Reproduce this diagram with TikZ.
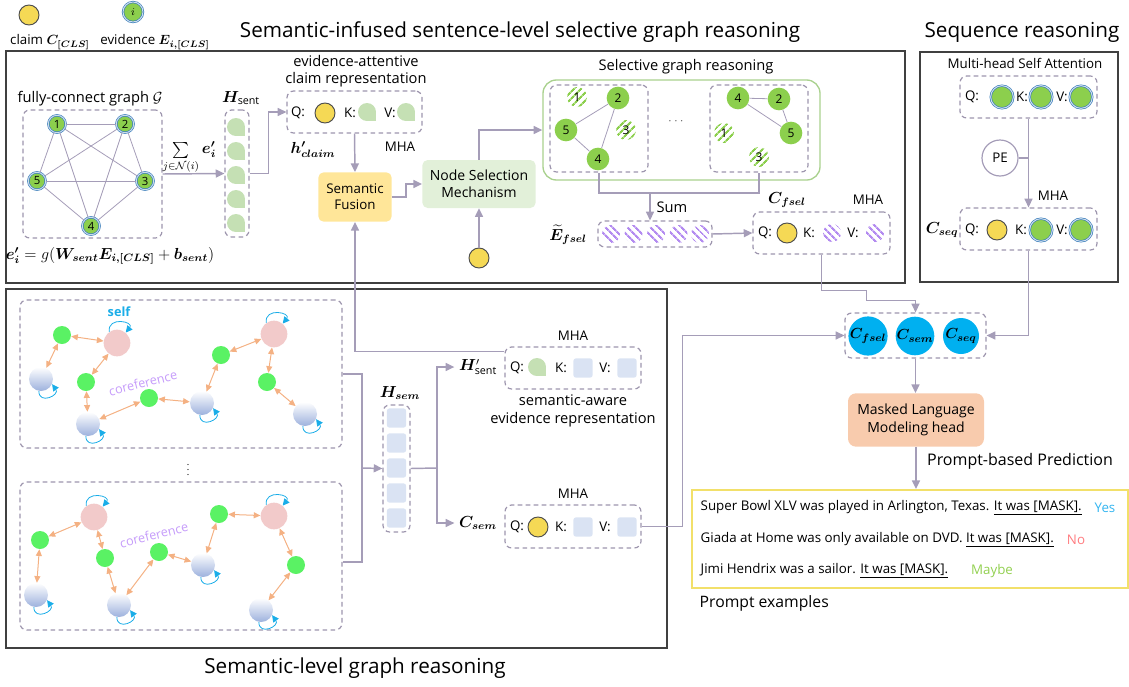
\documentclass[tikz,border=0pt]{standalone}
\usepackage{amsmath,bm}
\usepackage{fontspec}
\setmainfont{Open Sans}
\usetikzlibrary{arrows.meta,patterns.meta,fit,calc,positioning}
\definecolor{linecol}{HTML}{A59DB8}
\definecolor{dashcol}{HTML}{9D95AD}
\definecolor{claimcol}{HTML}{F5D955}
\definecolor{evidcol}{HTML}{8CCF4D}
\definecolor{ringcol}{HTML}{2E75B6}
\definecolor{leafcol}{HTML}{C5E0B4}
\definecolor{semcol}{HTML}{DAE3F3}
\definecolor{fusecol}{HTML}{FFE699}
\definecolor{nselcol}{HTML}{E2F0D9}
\definecolor{selframe}{HTML}{A9D18E}
\definecolor{hatchcol}{HTML}{B38BF0}
\definecolor{cyancol}{HTML}{00B0F0}
\definecolor{mlmcol}{HTML}{F8CBAD}
\definecolor{promptcol}{HTML}{F2E06A}
\definecolor{edgecol}{HTML}{F4B183}
\definecolor{brightgreen}{HTML}{5AF264}
\definecolor{pinkcol}{HTML}{F2CACA}
\definecolor{ballcol}{HTML}{9DB1DD}
\definecolor{corefcol}{HTML}{C59BFA}
\definecolor{selfcol}{HTML}{1AADE8}
\definecolor{yescol}{HTML}{33B5F0}
\definecolor{nocol}{HTML}{FF7C80}
\definecolor{maybecol}{HTML}{92D050}
\tikzset{leaf/.pic={\fill[leafcol] (0,0) circle[radius=9]; \fill[leafcol] (0,0) rectangle (9,9);}}

\begin{document}
\begin{tikzpicture}[x=0.75pt,y=-0.75pt, font=\fontsize{10}{11}\selectfont,
    panel/.style={draw=black!75, line width=1.1pt, inner sep=0pt},
    dbox/.style={draw=dashcol, dash pattern=on 3.5pt off 2.5pt, line width=0.9pt, rounded corners=5pt, inner sep=0pt},
    conn/.style={draw=linecol, line width=1.1pt, -{Triangle[length=6.5pt,width=6pt]}},
    wire/.style={draw=linecol, line width=1.1pt},
    claim/.style={circle, draw=black!70, line width=0.7pt, fill=claimcol, minimum size=15pt, inner sep=0pt},
    evid/.style={circle, draw=ringcol, double=ringcol!25, double distance=0.8pt, line width=0.45pt, fill=evidcol, minimum size=13pt, inner sep=0pt, font=\fontsize{8.5}{9}\selectfont},
    sel/.style={circle, fill=evidcol, minimum size=17pt, inner sep=0pt, font=\fontsize{9}{10}\selectfont},
    unsel/.style={circle, pattern={Lines[angle=45,distance=4pt,line width=1.7pt]}, pattern color=evidcol, minimum size=15pt, inner sep=0pt, font=\fontsize{9}{10}\selectfont},
    hatch/.style={circle, pattern={Lines[angle=-45,distance=4pt,line width=1.7pt]}, pattern color=hatchcol, minimum size=13.5pt, inner sep=0pt},
    sq/.style={fill=semcol, rounded corners=2pt, minimum size=14.5pt, inner sep=0pt},
    gedge/.style={draw=linecol, line width=0.6pt},
    lbl/.style={font=\fontsize{11.5}{12}\selectfont},
    title/.style={font=\fontsize{15.5}{17}\selectfont},
    big/.style={font=\fontsize{11}{13}\selectfont, align=center},
    cnode/.style={circle, fill=cyancol, minimum size=27pt, inner sep=0pt, font=\fontsize{11}{12}\selectfont},
    gn/.style={circle, fill=brightgreen, minimum size=13.5pt, inner sep=0pt},
    pn/.style={circle, fill=pinkcol, minimum size=20pt, inner sep=0pt},
    bn/.style={circle, top color=white, bottom color=ballcol, minimum size=18pt, inner sep=0pt},
    sedge/.style={draw=edgecol, line width=0.75pt, {Triangle[length=5pt,width=4.5pt]}-{Triangle[length=5pt,width=4.5pt]}},
    selfloop/.style={draw=selfcol, line width=0.6pt, -{Triangle[length=5pt,width=5pt]}},
    coref/.style={text=corefcol, rotate=14, font=\fontsize{9.5}{10}\selectfont}]
\useasboundingbox (0,0) rectangle (1129,686);

% legend
\node[claim] (lclaim) at (29,15) {};
\node at (50,42) {claim $\bm{C_{[CLS]}}$};
\node[evid, minimum size=15pt] (levid) at (133,12) {$i$};
\node at (155,42) {evidence $\bm{E_{i,[CLS]}}$};

% panels
\node[title] at (520,32) {Semantic-infused sentence-level selective graph reasoning};
\node[panel, fit={(6,51) (905,283)}] (toppanel) {};
\node[title] at (1022,32) {Sequence reasoning};
\node[panel, fit={(920,52) (1118,282)}] (seqpanel) {};
\node[panel, fit={(6,289) (667,648)}] (sempanel) {};
\node[title] at (355,668) {Semantic-level graph reasoning};

% fully-connect graph
\node[big] at (90,99) {fully-connect graph $\mathcal{G}$};
\node[dbox, fit={(23,110) (162,238)}] (gbox) {};
\node[evid] (n1) at (57,124) {1};
\node[evid] (n2) at (125,124) {2};
\node[evid] (n3) at (145,181) {3};
\node[evid] (n4) at (91,226) {4};
\node[evid] (n5) at (37,181) {5};
\foreach \a/\b in {n1/n2,n1/n3,n1/n4,n2/n4,n2/n5,n3/n4,n3/n5,n5/n4,n1/n5,n2/n3}
  \draw[gedge] (\a) -- (\b);
\node[lbl] at (110,256) {$\bm{e'_i} = g(\bm{W_{sent}}\bm{E_{i,[CLS]}} + \bm{b_{sent}})$};
\node[lbl] at (181,158) {$\sum\limits_{j\in\mathcal{N}(i)}$};
\node[lbl] at (209,150) {$\bm{e'_i}$};

% H_sent
\node[lbl] at (241,98) {$\bm{H}_{\mathrm{sent}}$};
\node[dbox, fit={(225,110) (249,237)}] (hsent) {};
\foreach \y in {127,151,175,199,223} \pic at (236,\y) {leaf};
\draw[conn] (gbox.east) -- (hsent.west);

% evidence-attentive claim
\node[big] at (356,71) {evidence-attentive\\claim representation};
\node[dbox, fit={(287,91) (422,133)}] (mhac) {};
\node at (298,113) {Q:};
\node[claim] (qc) at (325,113) {};
\node at (350,113) {K:};
\pic at (367,112) {leaf};
\node at (390,113) {V:};
\pic at (406,112) {leaf};
\node[lbl] at (313,150) {$\bm{h'_{claim}}$};
\node at (400,147) {MHA};
\draw[conn] (hsent.east) -- ++(19,0) |- (mhac.west);

\node[fill=fusecol, rounded corners=4pt, minimum width=55pt, minimum height=37pt, align=center, font=\fontsize{10}{12}\selectfont] (fuse) at (355,197) {Semantic\\Fusion};
\draw[conn] (mhac.south) -- (fuse.north);
\node[fill=nselcol, rounded corners=4pt, minimum width=85pt, minimum height=36pt, align=center, font=\fontsize{10.5}{12.5}\selectfont] (nsel) at (479,184) {Node Selection\\Mechanism};
\draw[conn] (fuse.east) -- ++(14,0) |- (nsel.west);
\node[claim] (qn) at (479,258) {};
\draw[conn] (qn) -- (nsel);

% selective graph reasoning
\node[big] at (686,67) {Selective graph reasoning};
\node[draw=selframe, line width=1pt, rounded corners=10pt, inner sep=0pt, fit={(543,80) (820,180)}] (selbox) {};
\draw[conn] (nsel.north) |- (selbox.west);
\node[dbox, fit={(550,85) (648,172)}] (sg1) {};
\node[dbox, fit={(710,85) (808,172)}] (sg2) {};
\node[text=black!60] at (677,122) {$\cdots$};
\node[unsel] (a1) at (577,97) {1};
\node[sel] (a2) at (618,98) {2};
\node[unsel] (a3) at (626,130) {3};
\node[sel] (a4) at (598,159) {4};
\node[sel] (a5) at (566,130) {5};
\draw[gedge] (a5) -- (a2) (a5) -- (a4) (a4) -- (a2);
\node[unsel] (b1) at (724,133) {1};
\node[sel] (b2) at (779,99) {2};
\node[unsel] (b3) at (759,157) {3};
\node[sel] (b4) at (738,98) {4};
\node[sel] (b5) at (791,133) {5};
\draw[gedge] (b4) -- (b2) (b4) -- (b5) (b2) -- (b5);

% sum
\coordinate (sumpt) at (650,193);
\draw[wire] (sg1.south) |- (sg2.south |- sumpt) -- (sg2.south);
\node[big] at (672,207) {Sum};
\node[dbox, fit={(598,221) (712,247)}] (efsel) {};
\foreach \x in {611,633.5,656,678.5,700} \node[hatch] at (\x,234) {};
\draw[conn] (sumpt) -- (sumpt |- efsel.north);
\node[lbl] at (568,235) {$\widetilde{\bm{E}}_{\bm{fsel}}$};

% C_fsel
\node[lbl] at (787,200) {$\bm{C_{fsel}}$};
\node at (868,200) {MHA};
\node[dbox, fit={(753,212) (890,254)}] (mhaf) {};
\node at (765,233) {Q:};
\node[claim] (qf) at (787,233) {};
\node at (809,233) {K:};
\node[hatch] (kf) at (832,233) {};
\node at (853,233) {V:};
\node[hatch] (vf) at (875,233) {};
\draw[conn] (efsel.east) -- (mhaf.west);

% sequence reasoning
\node at (1025,63) {Multi-head Self Attention};
\node[dbox, fit={(960,76) (1097,118)}] (mhas) {};
\node at (972,97) {Q:};
\node[evid, minimum size=17pt] (qs) at (1002,97) {};
\node at (1022,97) {K:};
\node[evid, minimum size=17pt] (ks) at (1041,97) {};
\node at (1062,97) {V:};
\node[evid, minimum size=17pt] (vs) at (1081,97) {};
\node[circle, draw=linecol, line width=0.9pt, minimum size=27pt, inner sep=0pt] (pe) at (1000,158) {PE};
\node at (1053,196) {MHA};
\node[dbox, fit={(960,208) (1097,250)}] (mhaq) {};
\node at (972,230) {Q:};
\node[claim] (qq) at (997,230) {};
\node at (1021,230) {K:};
\node[evid, minimum size=17pt] (kq) at (1041,230) {};
\node at (1062,230) {V:};
\node[evid, minimum size=17pt] (vq) at (1081,230) {};
\node[lbl] at (942,230) {$\bm{C_{seq}}$};
\draw[conn] (mhas.south) -- (mhaq.north);
\draw[wire] (pe.east) -- (pe.east -| mhas.south);

% combined claims
\node[dbox, fit={(845,313) (986,358)}] (cbox) {};
\node[cnode] (cf) at (868,336) {$\bm{C_{fsel}}$};
\node[cnode] (cs) at (915,336) {$\bm{C_{sem}}$};
\node[cnode] (cq) at (961,336) {$\bm{C_{seq}}$};
\draw[conn] (mhaf.south) -- ++(0,36) -- ++(45,0) -- ++(0,10) -| (cbox.north);
\draw[conn] (mhaq.south) |- (cbox.east);

\node[fill=mlmcol, rounded corners=6pt, minimum width=102pt, minimum height=40pt, align=center, font=\fontsize{10.5}{13}\selectfont] (mlm) at (916,420) {Masked Language\\Modeling head};
\draw[conn] (cbox.south) -- (cbox.south |- mlm.north);
\node[font=\fontsize{12}{14}\selectfont] at (1020,461) {Prompt-based Prediction};

% prompt examples
\node[draw=promptcol, line width=1.5pt, inner sep=0pt, fit={(692,490) (1128,588)}] (prompt) {};
\draw[conn] (mlm.south) -- (mlm.south |- prompt.north);
\node[anchor=west] at (696,508) {Super Bowl XLV was played in Arlington, Texas. \underline{It was [MASK].}};
\node[text=yescol] at (1105,508) {Yes};
\node[anchor=west] at (696,540) {Giada at Home was only available on DVD. \underline{It was [MASK].}};
\node[text=nocol] at (1076,540) {No};
\node[anchor=west] at (696,571) {Jimi Hendrix was a sailor. \underline{It was [MASK].}};
\node[text=maybecol] at (992,571) {Maybe};
\node[anchor=west, font=\fontsize{11.8}{13}\selectfont] at (695,603) {Prompt examples};

% semantic graphs
\node[dbox, fit={(20,300) (342,448)}] (gtop) {};
\node[dbox, fit={(20,482) (342,630)}] (gbot) {};
\node[font=\fontsize{7}{8}\selectfont] at (188,466) {$\vdots$};
\node[gn] (tg1) at (62,335) {};
\node[pn] (tp1) at (117,343) {};
\node[bn] (tb1) at (41,379) {};
\node[gn] (tg2) at (86,382) {};
\node[bn] (tb2) at (88,424) {};
\node[gn] (tg3) at (149,398) {};
\node[bn] (tb3) at (202,403) {};
\node[gn] (tg4) at (221,355) {};
\node[pn] (tp2) at (274,334) {};
\node[gn] (tg5) at (267,382) {};
\node[bn] (tb4) at (305,414) {};
\node[gn] (ug1) at (40,540) {};
\node[pn] (up1) at (94,517) {};
\node[bn] (ub1) at (36,595) {};
\node[gn] (ug2) at (105,558) {};
\node[bn] (ub2) at (119,605) {};
\node[gn] (ug3) at (159,552) {};
\node[bn] (ub3) at (203,565) {};
\node[gn] (ug4) at (219,514) {};
\node[pn] (up2) at (274,516) {};
\node[gn] (ug5) at (296,565) {};
\node[bn] (ub4) at (261,610) {};
\foreach \t in {t,u}
  \foreach \a/\b in {b1/g1,g1/p1,p1/g2,g2/b2,b2/g3,g3/b3,b3/g4,g4/p2,p2/g5,g5/b4}
    \draw[sedge] (\t\a) -- (\t\b);
\foreach \n in {tb1,tb2,tb3,tb4,ub1,ub2,ub3,ub4}
  \draw[selfloop] (\n.-100) .. controls +(0,14) and +(8,11) .. (\n.-25);
\foreach \n in {tp1,tp2,up1,up2}
  \draw[selfloop] (\n.125) .. controls +(-2,-16) and +(9,-11) .. (\n.50);
\node[text=selfcol, font=\bfseries\fontsize{9.5}{10}\selectfont] at (119,312) {self};
\node[coref] at (143,383) {coreference};
\node[coref] at (154,535) {coreference};

% H_sem
\node[lbl] at (400,393) {$\bm{H_{sem}}$};
\node[dbox, fit={(383,405) (410,532)}] (hsem) {};
\foreach \y in {418,443,468,493,518} \node[sq] at (396.5,\y) {};
\coordinate (hjoin) at (362,468);
\draw[wire] (gtop.east) -| (hjoin) |- ($(gbot.east)+(0,6)$);
\draw[conn] (hjoin) -- (hsem.west);
\coordinate (hsplit) at (437,468);
\draw[wire] (hsem.east) -- (hsplit);
\node[lbl] (hsp) at (478,367) {$\bm{H}'_{\mathrm{sent}}$};
\node[lbl] (csl) at (478,523) {$\bm{C_{sem}}$};
\draw[conn] (hsplit) |- (hsp.west);
\draw[conn] (hsplit) |- (csl.west);

\node at (573,336) {MHA};
\node[dbox, fit={(505,347) (641,389)}] (mhasent) {};
\node at (517,368) {Q:};
\pic at (537,367) {leaf};
\node at (561,368) {K:};
\node[sq] at (583,368) {};
\node at (605,368) {V:};
\node[sq] at (627,368) {};
\node[big] at (573,411) {semantic-aware\\evidence representation};
\draw[conn] ($(mhasent.north west)+(0,5)$) -| (fuse.south);

\node at (573,494) {MHA};
\node[dbox, fit={(505,505) (641,548)}] (mhasem) {};
\node at (517,527) {Q:};
\node[claim] (qsem) at (538,527) {};
\node at (561,527) {K:};
\node[sq] at (583,527) {};
\node at (605,527) {V:};
\node[sq] at (627,527) {};
\draw[conn] (mhasem.east) -- ++(41,0) |- (cbox.west);
\end{tikzpicture}
\end{document}
